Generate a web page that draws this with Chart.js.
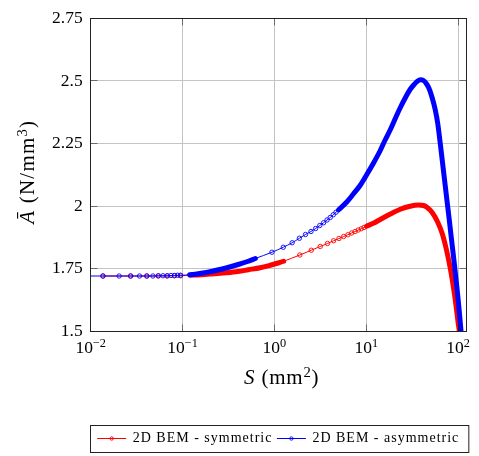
<!DOCTYPE html>
<html>
<head>
<meta charset="utf-8">
<script src="https://cdn.jsdelivr.net/npm/chart.js@4.4.1/dist/chart.umd.min.js"></script>
<style>
  html, body { margin: 0; padding: 0; background: #ffffff; }
  canvas { display: block; }
</style>
</head>
<body>
<canvas id="chart" width="479" height="456"></canvas>
<script>
// Surface S (mm^2) and averaged coefficient A-bar (N/mm^3) for the two BEM models
const symS = [0.0136, 0.0272, 0.0408, 0.0544, 0.068, 0.0816, 0.0952,
  0.12, 0.16, 0.22, 0.3, 0.4, 0.52, 0.7, 0.9, 1.1, 1.26,
  1.89, 2.52, 3.15, 3.78, 4.41, 5.04, 5.67, 6.3, 6.93, 7.56, 8.19, 8.82, 9.45, 10.08,
  12.1, 14.2, 18.3, 23.5, 30, 37, 42, 45.7, 52.2, 60, 67.1, 73, 79, 85, 91.4, 95.5, 99.9, 103, 106];
const symA = [1.72, 1.72, 1.72, 1.72, 1.72, 1.721, 1.721,
  1.723, 1.725, 1.729, 1.733, 1.738, 1.745, 1.753, 1.763, 1.772, 1.779,
  1.804, 1.823, 1.838, 1.85, 1.861, 1.87, 1.878, 1.885, 1.892, 1.898, 1.904, 1.909, 1.914, 1.919,
  1.932, 1.946, 1.968, 1.987, 1.999, 2.004, 2.002, 1.995, 1.974, 1.935, 1.89, 1.84, 1.783, 1.72, 1.645, 1.593, 1.535, 1.5, 1.46];

const asymS = [0.0068, 0.0136, 0.0204, 0.0272, 0.034, 0.0408, 0.0476, 0.0544, 0.0612, 0.068, 0.0748, 0.0816, 0.0884, 0.0952,
  0.12, 0.16, 0.21, 0.27, 0.34, 0.42, 0.52, 0.62,
  0.94, 1.25, 1.56, 1.87, 2.18, 2.5, 2.81, 3.12, 3.43, 3.74, 4.05, 4.37, 4.68,
  5.0, 6.1, 7.2, 8.6, 10.1, 12, 14.2, 16, 18.3, 21, 23.5, 27, 30, 33, 36, 38.8, 42, 45, 48, 52, 56.5, 60, 64.4, 68,
  72.3, 75.5, 79.5, 83.1, 87, 91.4, 95.5, 99.7, 103.5, 107.3, 111];
const asymA = [1.72, 1.72, 1.72, 1.72, 1.72, 1.72, 1.72, 1.721, 1.721, 1.721, 1.722, 1.722, 1.723, 1.723,
  1.725, 1.731, 1.739, 1.748, 1.758, 1.768, 1.779, 1.79,
  1.815, 1.835, 1.853, 1.871, 1.886, 1.898, 1.91, 1.922, 1.933, 1.944, 1.954, 1.965, 1.975,
  1.985, 2.015, 2.047, 2.083, 2.125, 2.172, 2.222, 2.263, 2.306, 2.355, 2.394, 2.437, 2.466, 2.485, 2.499, 2.505, 2.502, 2.49, 2.472, 2.435, 2.383, 2.33, 2.24, 2.166,
  2.083, 2.024, 1.955, 1.893, 1.83, 1.762, 1.697, 1.632, 1.568, 1.504, 1.44];

const seriesNames = ['2D BEM - symmetric', '2D BEM - asymmetric'];
const seriesColors = ['#ff0000', '#0000ff'];

const xTickValues = [0.01, 0.1, 1, 10, 100];
const xTickExponents = ['\u22122', '\u22121', '0', '1', '2'];
const yTickValues = [1.5, 1.75, 2, 2.25, 2.5, 2.75];
const yTickLabels = ['1.5', '1.75', '2', '2.25', '2.5', '2.75'];

// Ranges of S where the samples sit closer than one marker: drawn as a solid thick trace
const packedRanges = {
  sym: [[0.1, 1.3], [10, 1e4]],
  asym: [[0.1, 0.7], [4.9, 1e4]]
};
const inPacked = (key, s) => packedRanges[key].some(([a, b]) => s >= a && s <= b);

const FONT = '"Liberation Serif", "DejaVu Serif", serif';

function makeDataset(key, label, xs, ys, color, order) {
  return {
    label,
    data: xs.map((s, i) => ({ x: s, y: ys[i] })),
    borderColor: color,
    backgroundColor: color,
    borderWidth: 1,
    borderCapStyle: 'round',
    borderJoinStyle: 'round',
    cubicInterpolationMode: 'monotone',
    pointRadius: ctx => inPacked(key, xs[ctx.dataIndex]) ? 0 : 2.2,
    pointBorderWidth: 0.9,
    pointBorderColor: color,
    pointBackgroundColor: 'rgba(255,255,255,0)',
    segment: {
      borderWidth: ctx => (inPacked(key, xs[ctx.p0DataIndex]) && inPacked(key, xs[ctx.p1DataIndex])) ? 5 : 1
    },
    clip: 0,
    order
  };
}

function setSpacing(ctx, v) {
  if ('letterSpacing' in ctx) ctx.letterSpacing = v;
}

// Text runs mixing italic, roman and superscript pieces
function fontFor(p, size) {
  if (p.sup) return `${(size * 0.7).toFixed(1)}px ${FONT}`;
  if (p.it) return `italic ${size}px ${FONT}`;
  return `${size}px ${FONT}`;
}
function richWidth(ctx, parts, size) {
  let w = 0;
  for (const p of parts) {
    ctx.font = fontFor(p, size);
    w += ctx.measureText(p.t).width;
  }
  return w;
}
function drawRich(ctx, parts, size, x, y, raise) {
  for (const p of parts) {
    ctx.font = fontFor(p, size);
    ctx.fillText(p.t, x, p.sup ? y - raise : y);
    x += ctx.measureText(p.t).width;
  }
}

const framePlugin = {
  id: 'frame',
  afterDraw(chart) {
    const { ctx, chartArea: a } = chart;
    const xs = chart.scales.x, ys = chart.scales.y;
    const al = v => Math.round(v - 0.5) + 0.5;
    const L = al(a.left), R = al(a.right), T = al(a.top), B = al(a.bottom);

    ctx.save();
    // inward tick marks on all four sides
    ctx.strokeStyle = 'rgba(0,0,0,0.45)';
    ctx.lineWidth = 1;
    ctx.beginPath();
    for (const v of yTickValues) {
      const py = al(ys.getPixelForValue(v));
      ctx.moveTo(L, py); ctx.lineTo(L + 7, py);
      ctx.moveTo(R, py); ctx.lineTo(R - 7, py);
    }
    for (const v of xTickValues) {
      const px = al(xs.getPixelForValue(v));
      ctx.moveTo(px, B); ctx.lineTo(px, B - 7);
      ctx.moveTo(px, T); ctx.lineTo(px, T + 7);
    }
    ctx.stroke();

    // axis frame
    ctx.strokeStyle = '#222';
    ctx.strokeRect(L, T, R - L, B - T);

    // x tick labels: 10 with a raised exponent
    ctx.fillStyle = '#000';
    ctx.textBaseline = 'alphabetic';
    ctx.textAlign = 'left';
    xTickValues.forEach((v, i) => {
      const px = xs.getPixelForValue(v);
      const parts = [{ t: '10' }, { t: xTickExponents[i], sup: true }];
      const w = richWidth(ctx, parts, 17.5);
      drawRich(ctx, parts, 17.5, px - w / 2, 353, 6);
    });

    // axis titles
    setSpacing(ctx, '0.8px');
    const xt = [{ t: 'S', it: true }, { t: ' (mm' }, { t: '2', sup: true }, { t: ')' }];
    const xw = richWidth(ctx, xt, 21);
    drawRich(ctx, xt, 21, (a.left + a.right) / 2 + 3 - xw / 2, 384, 7);

    setSpacing(ctx, '1.2px');
    const yt = [{ t: '\u0100', it: true }, { t: ' (N/mm' }, { t: '3', sup: true }, { t: ')' }];
    const yw = richWidth(ctx, yt, 21);
    ctx.save();
    ctx.translate(33.5, (a.top + a.bottom) / 2 - 3);
    ctx.rotate(-Math.PI / 2);
    drawRich(ctx, yt, 21, -yw / 2, 0, 7);
    ctx.restore();

    // legend box below the axes
    setSpacing(ctx, '1px');
    ctx.font = `14px ${FONT}`;
    const padL = 6.7, padR = 9.5, lineLen = 29, gapLT = 6.5, gapItems = 4.5;
    const tw = seriesNames.map(n => ctx.measureText(n).width);
    const boxW = padL + padR + 2 * (lineLen + gapLT) + tw[0] + tw[1] + gapItems;
    const boxL = Math.round((a.left + a.right) / 2 - boxW / 2) + 0.5;
    const boxT = 425.5, boxH = 27;
    ctx.strokeStyle = '#222';
    ctx.lineWidth = 1;
    ctx.strokeRect(boxL, boxT, boxW, boxH);
    let x = boxL + padL;
    const ly = 438.5;
    seriesNames.forEach((name, i) => {
      ctx.strokeStyle = seriesColors[i];
      ctx.lineWidth = 1;
      ctx.beginPath();
      ctx.moveTo(x, ly); ctx.lineTo(x + lineLen, ly);
      ctx.stroke();
      ctx.lineWidth = 0.9;
      ctx.beginPath();
      ctx.arc(x + lineLen / 2, ly, 1.7, 0, Math.PI * 2);
      ctx.stroke();
      x += lineLen + gapLT;
      ctx.fillStyle = '#000';
      ctx.font = `14px ${FONT}`;
      ctx.fillText(name, x, 441.5);
      x += tw[i] + gapItems;
    });
    setSpacing(ctx, '0px');
    ctx.restore();
  }
};

new Chart(document.getElementById('chart'), {
  type: 'line',
  data: {
    datasets: [
      makeDataset('sym', seriesNames[0], symS, symA, seriesColors[0], 1),
      makeDataset('asym', seriesNames[1], asymS, asymA, seriesColors[1], 0)
    ]
  },
  options: {
    responsive: false,
    animation: false,
    devicePixelRatio: 1,
    events: [],
    layout: { padding: { top: 18.3, right: 12.3, left: 0, bottom: 0 } },
    plugins: { legend: { display: false }, tooltip: { enabled: false }, title: { display: false } },
    scales: {
      x: {
        type: 'logarithmic',
        min: 0.01,
        max: 124,
        afterBuildTicks: s => { s.ticks = xTickValues.map(v => ({ value: v })); },
        afterFit: s => { s.height = 125; },
        ticks: { display: false },
        grid: { color: '#c4c4c4', lineWidth: 1, drawTicks: false },
        border: { display: false }
      },
      y: {
        type: 'linear',
        min: 1.5,
        max: 2.75,
        afterBuildTicks: s => { s.ticks = yTickValues.map(v => ({ value: v })); },
        afterFit: s => { s.width = 90.7; },
        ticks: {
          color: '#000',
          padding: 8,
          font: { family: FONT, size: 17.5 },
          callback: (v, i) => yTickLabels[i]
        },
        grid: { color: '#c4c4c4', lineWidth: 1, drawTicks: false },
        border: { display: false }
      }
    }
  },
  plugins: [framePlugin]
});
</script>
</body>
</html>
